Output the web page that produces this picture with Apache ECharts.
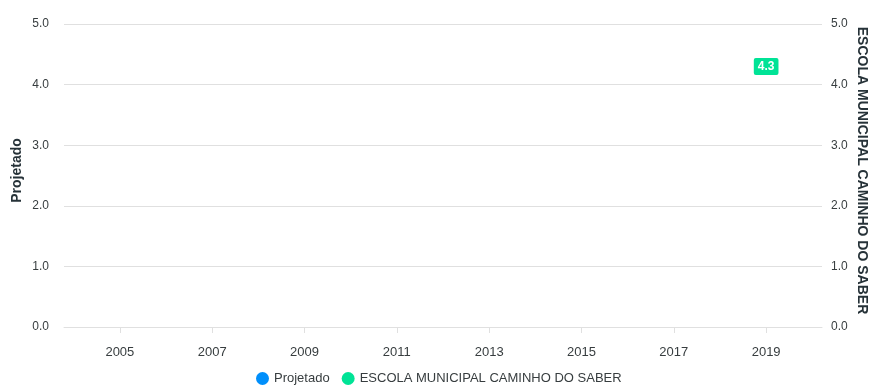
<!DOCTYPE html>
<html>
<head>
<meta charset="utf-8">
<script src="https://cdn.jsdelivr.net/npm/echarts@6/dist/echarts.min.js"></script>
<style>
  html, body { margin: 0; padding: 0; background: #fff; }
  #chart { width: 870px; height: 385px; }
</style>
</head>
<body>
<div id="chart"></div>
<script>
// Years shown on the horizontal axis
var years = [2005, 2007, 2009, 2011, 2013, 2015, 2017, 2019];
// Projected values (no data recorded)
var projetado = [null, null, null, null, null, null, null, null];
// School results per year
var escola = [null, null, null, null, null, null, null, 4.3];
// Vertical axis ticks
var yTicks = [0, 1, 2, 3, 4, 5];

var blue = '#008FFB';
var green = '#00E396';
var labelColor = '#373d3f';
var font = '"Liberation Sans", Arial, Helvetica, sans-serif';

function pairs(values) {
  return years.map(function (y, i) { return [y, values[i]]; });
}

var chart = echarts.init(document.getElementById('chart'), null, { renderer: 'canvas' });

chart.setOption({
  animation: false,
  textStyle: { fontFamily: font },
  grid: { left: 64, right: 48, top: 24, bottom: 58, containLabel: false, outerBoundsMode: 'none' },
  legend: {
    bottom: -5,
    left: 251,
    icon: 'circle',
    itemWidth: 13,
    itemHeight: 13,
    itemGap: 12,
    textStyle: { color: labelColor, fontSize: 13, fontFamily: font },
    data: ['Projetado', 'ESCOLA MUNICIPAL CAMINHO DO SABER']
  },
  xAxis: {
    type: 'value',
    min: 2003.79,
    max: 2020.21,
    axisLine: { show: true, lineStyle: { color: '#e0e0e0', width: 1 } },
    axisTick: {
      show: true,
      length: 6,
      customValues: years,
      lineStyle: { color: '#e0e0e0' }
    },
    axisLabel: {
      customValues: years,
      color: labelColor,
      fontSize: 13,
      margin: 19,
      formatter: function (v) { return String(v); }
    },
    splitLine: { show: false }
  },
  yAxis: [
    {
      type: 'value',
      min: yTicks[0],
      max: yTicks[yTicks.length - 1],
      interval: 1,
      position: 'left',
      name: 'Projetado',
      nameLocation: 'middle',
      nameGap: 40,
      nameMoveOverlap: false,
      nameRotate: 90,
      nameTextStyle: { color: '#263238', fontWeight: 'bold', fontSize: 14, fontFamily: font, padding: [0, 0, 0, 10] },
      axisLine: { show: false },
      axisTick: { show: false },
      axisLabel: {
        color: labelColor, fontSize: 12, margin: 15,
        formatter: function (v) { return v.toFixed(1); }
      },
      splitLine: { show: true, lineStyle: { color: '#e0e0e0', width: 1 } }
    },
    {
      type: 'value',
      min: yTicks[0],
      max: yTicks[yTicks.length - 1],
      interval: 1,
      position: 'right',
      name: 'ESCOLA MUNICIPAL CAMINHO DO SABER',
      nameLocation: 'middle',
      nameGap: 33,
      nameMoveOverlap: false,
      nameRotate: -90,
      nameTextStyle: { color: '#263238', fontWeight: 'bold', fontSize: 14, fontFamily: font, padding: [0, 10, 0, 0] },
      axisLine: { show: false },
      axisTick: { show: false },
      axisLabel: {
        color: labelColor, fontSize: 12, margin: 9,
        formatter: function (v) { return v.toFixed(1); }
      },
      splitLine: { show: false }
    }
  ],
  series: [
    {
      name: 'Projetado',
      type: 'line',
      yAxisIndex: 0,
      data: pairs(projetado),
      itemStyle: { color: blue },
      lineStyle: { color: blue, width: 2 },
      showSymbol: false,
      connectNulls: false
    },
    {
      name: 'ESCOLA MUNICIPAL CAMINHO DO SABER',
      type: 'line',
      yAxisIndex: 1,
      data: pairs(escola),
      itemStyle: { color: green },
      lineStyle: { color: green, width: 2 },
      symbol: 'circle',
      symbolSize: 1,
      connectNulls: false,
      label: {
        show: true,
        position: 'inside',
        color: '#fff',
        fontWeight: 'bold',
        fontSize: 12,
        fontFamily: font,
        backgroundColor: green,
        borderRadius: 2,
        padding: [3, 4, 2, 4],
        formatter: function (p) { return p.value[1].toFixed(1); }
      }
    }
  ]
});
</script>
</body>
</html>
